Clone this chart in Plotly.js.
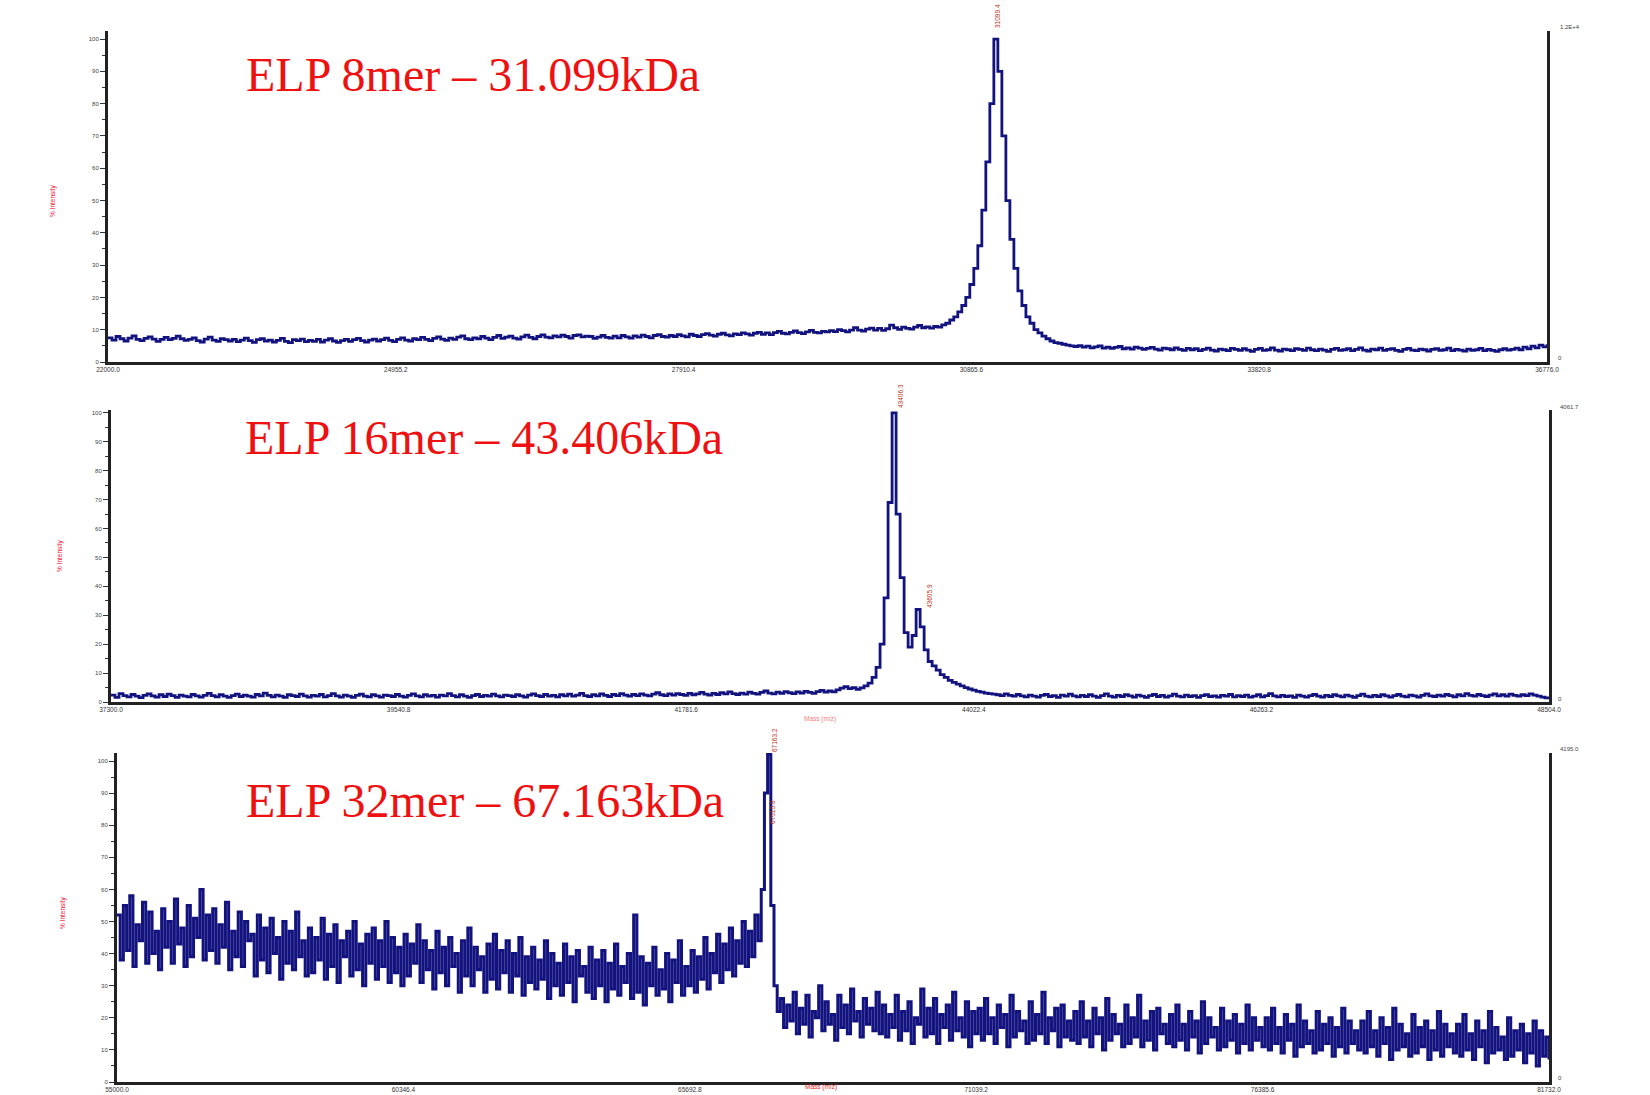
<!DOCTYPE html>
<html>
<head>
<meta charset="utf-8">
<script src="https://cdn.plot.ly/plotly-3.0.1.min.js"></script>
<style>html,body{margin:0;padding:0;background:#fff;}#chart{width:1650px;height:1095px;}</style>
</head>
<body>
<div id="chart"></div>
<script>
// ---------- DATA (% intensity) ----------
const titles = ["ELP 8mer \u2013 31.099kDa", "ELP 16mer \u2013 43.406kDa", "ELP 32mer \u2013 67.163kDa"];
const peakLabels1 = ["31099.4"];
const peakLabels2 = ["43406.3", "43605.9"];
const peakLabels3 = ["67163.2", "67010.8"];
const rightTopLabels = ["1.2E+4", "4061.7", "4195.0"];

// mass sampling grid (start, step) per spectrum
const massStart1 = 22000.0, massStep1 = 41.159;
const massStart2 = 37300.0, massStep2 = 31.209;
const massStart3 = 55000.0, massStep3 = 59.537;

const xTicks1 = [22000.0, 24955.2, 27910.4, 30865.6, 33820.8, 36776.0];
const xTicks2 = [37300.0, 39540.8, 41781.6, 44022.4, 46263.2, 48504.0];
const xTicks3 = [55000.0, 60346.4, 65692.8, 71039.2, 76385.6, 81732.0];

const intensity1 = [
7.5,6.8,7.9,7.2,6.5,7.4,8.1,7.0,6.6,7.3,
7.8,7.1,6.4,7.0,7.6,6.9,7.3,8.0,7.2,6.7,
7.0,7.5,6.6,6.2,7.1,7.7,6.8,6.4,7.2,6.9,
6.5,7.0,6.3,6.8,7.4,6.6,6.1,6.9,7.2,6.5,
6.8,6.2,6.7,7.3,6.4,6.0,6.9,6.6,7.1,6.3,
6.7,6.4,7.0,6.2,6.8,7.2,6.5,6.1,6.6,7.0,
6.4,6.9,7.3,6.6,6.2,6.8,7.1,6.5,6.9,7.4,
6.7,6.3,7.0,7.5,6.8,6.5,7.2,6.9,7.6,7.0,
6.6,7.3,7.8,7.1,6.7,7.4,7.0,7.7,8.1,7.2,
6.9,7.5,7.2,7.9,7.4,6.9,7.6,8.2,7.3,7.7,
8.0,7.4,7.1,7.8,8.3,7.6,7.2,7.9,8.4,7.7,
7.5,8.1,7.8,8.3,7.9,7.4,8.2,8.4,7.8,8.0,
7.9,7.3,7.7,8.2,7.6,7.4,8.0,7.5,8.2,7.8,
7.4,8.1,7.7,8.3,7.9,7.5,8.2,8.5,7.9,7.7,
8.2,7.9,8.5,8.1,7.8,8.6,8.2,7.9,8.5,8.8,
8.3,8.0,8.6,8.9,8.4,8.1,8.7,8.5,9.0,8.7,
8.3,8.9,9.2,8.6,9.0,8.5,9.1,9.5,8.9,8.7,
9.2,9.6,9.1,8.8,9.3,9.8,9.2,9.0,9.5,9.3,
9.7,9.4,10.0,9.7,9.3,9.9,10.6,9.9,9.6,10.2,
10.5,9.9,10.4,9.8,10.3,11.4,10.6,10.1,10.8,10.4,
10.2,10.8,11.3,10.6,10.9,
10.5,11.0,10.8,11.5,12.0,13.0,14.0,15.5,17.5,20.0,
24.0,29.0,36.0,47.0,62.0,80.0,100.0,90.0,70.0,50.0,
38.0,29.0,22.0,17.5,14.0,12.0,10.0,9.0,8.0,7.2,
6.5,6.0,5.8,5.5,5.2,5.0,
4.8,5.1,4.6,4.9,4.4,4.7,5.0,4.3,4.6,4.2,
4.5,4.8,4.1,4.4,4.0,4.6,4.3,3.9,4.2,4.5,
4.0,3.7,4.3,4.1,3.8,4.4,3.9,3.6,4.2,3.8,
4.1,3.5,3.9,4.3,3.7,3.4,4.0,3.8,3.5,4.2,
3.9,3.6,4.1,3.7,3.3,3.9,4.2,3.6,3.8,4.4,
3.7,3.4,4.0,3.8,3.5,4.1,3.9,3.6,4.3,3.8,
3.5,4.0,3.7,3.3,3.9,4.2,3.6,3.8,4.1,3.5,
3.9,4.4,3.7,3.4,4.0,3.8,4.3,3.6,3.9,4.1,
3.6,3.3,3.9,4.2,3.7,3.5,4.0,3.8,3.4,3.9,
4.1,3.6,3.8,4.3,3.5,3.9,3.7,3.4,4.0,3.6,
3.8,4.2,3.5,3.9,3.6,3.3,3.8,4.1,3.7,3.9,
4.3,3.8,4.6,4.1,4.9,4.4,5.2,4.7,5.5
];

const intensity2 = [
2.4,1.6,2.9,2.2,1.8,2.6,2.0,1.5,2.3,2.8,
2.1,1.7,2.5,1.9,2.7,2.2,1.6,2.4,2.0,1.8,
2.6,2.1,1.7,2.3,3.0,2.2,1.8,2.5,2.0,1.6,
2.2,2.7,1.9,2.4,2.0,1.7,2.6,2.1,3.1,2.3,
1.8,2.4,2.0,1.6,2.5,2.2,1.9,2.7,2.1,1.7,
2.3,2.0,2.6,1.8,2.2,2.9,2.1,1.7,2.4,2.0,
1.6,2.3,2.7,2.0,1.8,2.5,2.1,1.7,2.4,2.2,
1.9,2.6,2.0,1.7,2.3,2.8,2.1,1.8,2.5,2.0,
2.3,1.7,2.4,2.1,2.9,2.2,1.8,2.5,2.0,1.6,
2.2,2.6,1.9,2.3,2.0,2.7,2.1,1.8,2.4,2.2,
1.9,2.5,2.1,1.7,2.4,2.8,2.2,1.9,2.6,2.0,
2.3,1.8,2.5,2.1,2.7,2.0,2.4,3.0,2.2,1.9,
2.5,2.1,2.8,2.3,1.9,2.6,2.2,2.9,2.4,2.0,
2.6,2.2,2.8,2.4,2.1,2.7,3.2,2.5,2.2,2.8,
2.4,2.9,2.6,2.3,3.0,2.5,2.8,3.3,2.7,2.4,
3.0,2.6,3.2,2.8,3.5,2.9,2.6,3.1,2.7,3.4,
3.0,2.7,3.3,3.8,3.1,2.8,3.4,3.0,3.6,3.2,
2.9,3.5,3.1,3.7,3.3,3.0,3.6,4.0,3.4,3.8,
3.5,4.2,4.8,5.3,4.6,5.0,4.4,4.9,5.6,6.5,
8.5,12.0,20.0,36.0,69.0,100.0,65.0,43.0,24.0,19.0,
23.0,32.0,26.0,18.0,14.0,12.5,11.0,9.5,8.5,7.5,
6.8,6.2,5.6,5.0,4.5,4.1,3.7,3.4,3.1,2.9,
2.7,
2.5,2.2,2.8,2.3,2.0,2.6,2.1,1.8,2.4,2.0,
1.7,2.3,2.6,1.9,2.2,1.6,2.4,2.0,2.7,2.1,
1.8,2.3,1.9,2.5,2.0,1.6,2.2,2.8,2.0,1.7,
2.3,1.9,2.5,2.1,1.7,2.4,2.0,1.6,2.2,2.6,
1.9,2.3,1.7,2.1,2.7,2.0,1.8,2.4,1.9,2.2,
1.6,2.2,2.5,1.9,2.1,1.7,2.3,2.0,2.6,1.8,
2.2,1.9,2.4,1.7,2.0,2.5,1.8,2.2,2.9,2.1,
1.8,2.3,1.9,2.1,1.6,2.4,2.0,1.7,2.2,2.6,
2.0,1.7,2.3,1.9,2.5,2.1,1.8,2.4,2.0,1.6,
2.2,2.7,2.0,1.8,2.3,1.9,2.5,2.1,1.7,2.2,
2.6,2.0,1.8,2.4,2.1,1.7,2.3,2.8,2.1,1.9,
2.4,2.0,2.6,2.2,1.8,2.5,2.1,2.9,2.3,2.0,
2.6,2.2,1.9,2.4,2.8,2.1,2.5,2.0,2.7,2.3,
2.0,2.5,2.2,2.8,2.4,2.0,1.7,1.4,1.6
];

const intensity3 = [
52,38,55,41,58,36,49,44,56,37,53,40,47,35,54,42,50,37,57,43,48,36,55,39,51,45,60,38,52,41,
54,37,49,42,56,35,47,39,53,36,50,44,46,33,52,38,48,34,51,40,45,32,50,37,47,35,53,39,44,33,
48,34,45,38,51,32,46,36,49,31,44,39,47,33,50,35,43,30,46,37,48,32,44,36,50,31,45,34,42,30,
46,33,43,37,49,31,44,35,41,29,47,34,42,30,45,36,40,28,44,33,48,30,42,35,39,28,43,32,46,29,
41,34,44,28,40,33,45,27,39,31,42,29,38,32,44,26,40,30,37,27,43,31,39,25,41,33,36,28,42,26,
38,30,41,25,37,29,43,27,36,31,40,26,52,28,39,24,37,30,42,27,35,29,40,25,38,31,44,27,36,30,
41,28,39,32,45,29,40,34,46,31,43,35,48,33,44,37,50,36,47,39,52,44,
60,90,102,55,30,22,
26,17,24,19,28,15,23,18,27,14,22,20,30,16,25,18,21,13,27,17,24,15,29,19,22,14,26,18,23,16,28,15,
24,14,21,17,27,13,22,16,25,12,20,18,29,14,23,15,26,12,21,17,24,13,28,16,20,14,25,11,22,15,
23,13,26,15,20,12,24,17,21,11,27,14,22,16,19,12,25,13,21,15,28,12,20,16,23,11,24,14,19,13,
22,12,25,14,19,11,23,15,20,10,26,13,21,15,18,11,24,12,20,14,27,11,19,13,22,10,23,15,18,12,
21,11,24,13,18,10,22,14,19,9,25,12,20,14,17,10,23,11,19,13,21,9,18,12,24,10,20,13,17,11,
20,10,23,12,17,9,21,13,18,8,24,11,19,12,16,9,22,10,18,12,20,8,17,11,23,9,19,12,16,10,
19,9,22,11,16,8,20,12,17,7,23,10,18,11,15,8,21,9,17,11,19,7,16,10,22,8,18,11,15,9,
18,8,21,10,15,7,19,11,16,6,22,9,17,10,14,7,20,8,16,10,18,6,15,9,19,5,16,8,14,7
];

// ---------- CHART ----------
const W = 1650, H = 1095;
const px = v => v / W;
const py = v => 1 - v / H;
const lineColor = '#13137f';

function trace(y, x0, dx, xa, ya, w) {
  return { type: 'scatter', mode: 'lines', y: y, x0: x0, dx: dx,
    xaxis: xa, yaxis: ya, line: { color: lineColor, width: w, shape: 'hv' },
    hoverinfo: 'skip' };
}
const data = [
  trace(intensity1, massStart1, massStep1, 'x', 'y', 2.8),
  trace(intensity2, massStart2, massStep2, 'x2', 'y2', 2.8),
  trace(intensity3, massStart3, massStep3, 'x3', 'y3', 3.0)
];

function xAxis(domain, ticks, anchor) {
  return { domain: domain, anchor: anchor, range: [ticks[0], ticks[ticks.length - 1]],
    showline: true, linewidth: 2.5, linecolor: '#222', mirror: false,
    showgrid: false, zeroline: false, ticks: '',
    tickmode: 'array', tickvals: ticks, ticktext: ticks.map(t => t.toFixed(1)),
    tickfont: { family: 'Liberation Sans, Arial, sans-serif', size: 6.5, color: '#333' } };
}
function yAxis(domain, top, anchor) {
  return { domain: domain, anchor: anchor, range: [0, top],
    showline: true, linewidth: 3, linecolor: '#222', mirror: true,
    showgrid: false, zeroline: false, ticks: 'outside', ticklen: 5, tickwidth: 1, tickcolor: '#333',
    tick0: 0, dtick: 10,
    minor: { dtick: 5, ticks: 'outside', ticklen: 3, tickwidth: 1, tickcolor: '#333' },
    tickfont: { family: 'Liberation Sans, Arial, sans-serif', size: 6, color: '#444' } };
}

const layout = {
  width: W, height: H, margin: { l: 0, r: 0, t: 0, b: 0 },
  paper_bgcolor: '#fff', plot_bgcolor: '#fff', showlegend: false,
  xaxis:  xAxis([px(108), px(1547)], xTicks1, 'y'),
  yaxis:  yAxis([py(362), py(31)], 102.5, 'x'),
  xaxis2: xAxis([px(111), px(1549)], xTicks2, 'y2'),
  yaxis2: yAxis([py(702), py(410)], 101, 'x2'),
  xaxis3: xAxis([px(117), px(1549)], xTicks3, 'y3'),
  yaxis3: yAxis([py(1082), py(753)], 102.5, 'x3'),
  annotations: []
};

const serif = 'Liberation Serif, Times New Roman, serif';
const sans = 'Liberation Sans, Arial, sans-serif';
function ann(text, x, y, opts) {
  layout.annotations.push(Object.assign({ text: text, x: px(x), y: py(y), xref: 'paper', yref: 'paper',
    showarrow: false, xanchor: 'center', yanchor: 'middle' }, opts));
}
// panel titles
ann(titles[0], 244, 74, { xanchor: 'left', font: { family: serif, size: 48, color: '#ee1111' } });
ann(titles[1], 243, 437, { xanchor: 'left', font: { family: serif, size: 48, color: '#ee1111' } });
ann(titles[2], 244, 800, { xanchor: 'left', font: { family: serif, size: 48, color: '#ee1111' } });
// y-axis titles
['% Intensity', '% Intensity', '% Intensity'].forEach((t, i) => {
  ann(t, [53, 60, 63][i], [201, 556, 913][i], { textangle: -90, font: { family: sans, size: 6.5, color: '#ee1133' } });
});
// x-axis titles
ann('Mass (m/z)', 821, 1087, { font: { family: sans, size: 6.5, color: '#ee2222' } });
ann('Mass (m/z)', 820, 719, { font: { family: sans, size: 6.5, color: '#ee2222' }, opacity: 0.6 });
// peak labels
const pk = { family: sans, size: 6.5, color: '#b8321a' };
ann(peakLabels1[0], 998, 16, { textangle: -90, font: pk });
ann(peakLabels2[0], 900, 396, { textangle: -90, font: pk });
ann(peakLabels2[1], 930, 596, { textangle: -90, font: pk });
ann(peakLabels3[0], 774, 740, { textangle: -90, font: pk });
ann(peakLabels3[1], 772, 812, { textangle: -90, font: pk });
// right axis labels
const rt = { family: sans, size: 6, color: '#444' };
ann(rightTopLabels[0], 1558, 27, { xanchor: 'left', font: rt });
ann(rightTopLabels[1], 1558, 407, { xanchor: 'left', font: rt });
ann(rightTopLabels[2], 1558, 749, { xanchor: 'left', font: rt });
ann('0', 1556, 358, { xanchor: 'left', font: rt });
ann('0', 1556, 699, { xanchor: 'left', font: rt });
ann('0', 1556, 1078, { xanchor: 'left', font: rt });

Plotly.newPlot('chart', data, layout, { staticPlot: true, displayModeBar: false });
</script>
</body>
</html>
